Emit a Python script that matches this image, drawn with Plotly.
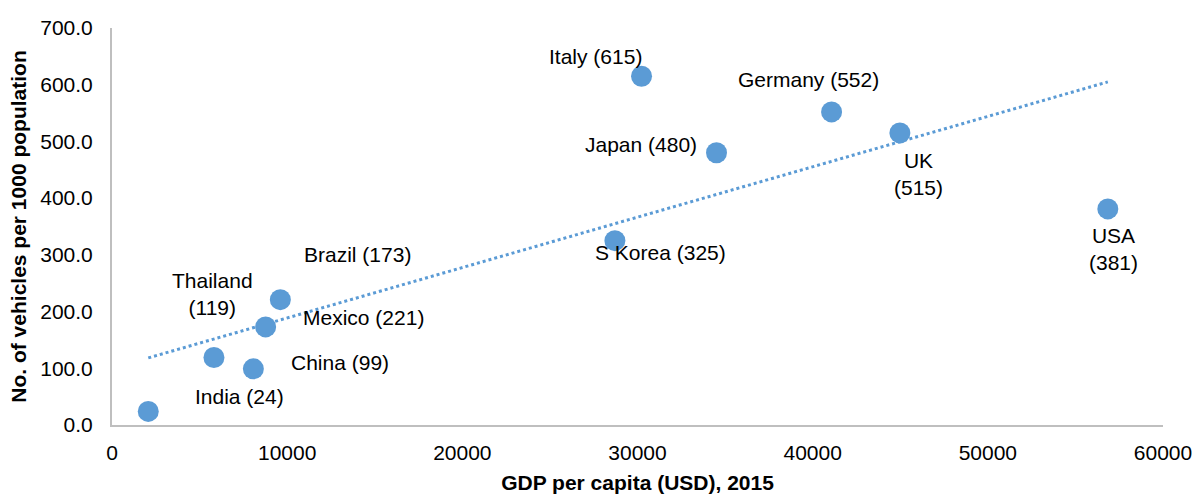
import numpy as np
import plotly.graph_objects as go

# Data
gdp = [2070, 5820, 8070, 8770, 9610, 28710, 30230, 34510, 41080, 44980, 56850]
vehicles = [24, 119, 99, 173, 221, 325, 615, 480, 552, 515, 381]

# Labels as printed on the chart
label_texts = ["India (24)", "Thailand<br>(119)", "China (99)", "Mexico (221)", "Brazil (173)",
               "S Korea (325)", "Italy (615)", "Japan (480)", "Germany (552)", "UK<br>(515)", "USA<br>(381)"]
label_x = [7307, 5709, 13016, 14386, 13987, 31341, 27574, 30200, 39734, 46070, 57146]
label_y = [50, 231, 111, 189, 300, 304, 650, 495, 609, 443, 310]

x_ticks = [0, 10000, 20000, 30000, 40000, 50000, 60000]
y_ticks = [0, 100, 200, 300, 400, 500, 600, 700]

BLUE = "#5B9BD5"
FONT = "Liberation Sans, Arial, sans-serif"
FS = 21

fig = go.Figure()

# Linear trendline (least squares fit on the data)
coef = np.polyfit(gdp, vehicles, 1)
tx = np.array([min(gdp), max(gdp)])
ty = np.polyval(coef, tx)
fig.add_trace(go.Scatter(x=tx, y=ty, mode="lines",
                         line=dict(color=BLUE, width=3, dash="dot"),
                         hoverinfo="skip", showlegend=False))

fig.add_trace(go.Scatter(x=gdp, y=vehicles, mode="markers",
                         marker=dict(color=BLUE, size=21, line=dict(width=0)),
                         showlegend=False))

for t, lx, ly in zip(label_texts, label_x, label_y):
    fig.add_annotation(x=lx, y=ly, text=t, showarrow=False,
                       font=dict(family=FONT, size=FS, color="#000000"),
                       xanchor="center", yanchor="middle")

fig.update_layout(
    width=1195, height=496,
    margin=dict(l=112, r=32, t=28, b=71),
    paper_bgcolor="white", plot_bgcolor="white",
    font=dict(family=FONT, size=FS, color="#000000"),
    showlegend=False,
)
fig.update_xaxes(range=[0, 60000], tickvals=x_ticks, ticktext=[str(v) for v in x_ticks],
                 showgrid=False, zeroline=False, showline=True, automargin=False,
                 linecolor="#BFBFBF", linewidth=2, ticks="", ticklabelstandoff=8,
                 tickfont=dict(family=FONT, size=FS),
                 title=dict(text="<b>GDP per capita (USD), 2015</b>", standoff=12,
                            font=dict(family=FONT, size=FS)))
fig.update_yaxes(range=[0, 700], tickvals=y_ticks, ticktext=[f"{v:.1f}" for v in y_ticks],
                 showgrid=False, zeroline=False, showline=True, automargin=False,
                 linecolor="#BFBFBF", linewidth=2, ticks="", ticklabelstandoff=13,
                 tickfont=dict(family=FONT, size=FS),
                 title=dict(text="<b>No. of vehicles per 1000 population</b>", standoff=8,
                            font=dict(family=FONT, size=FS)))

fig.write_html("out.html", config={"displayModeBar": False},
               post_script="document.body.style.margin='0px';document.body.style.overflow='hidden';")
